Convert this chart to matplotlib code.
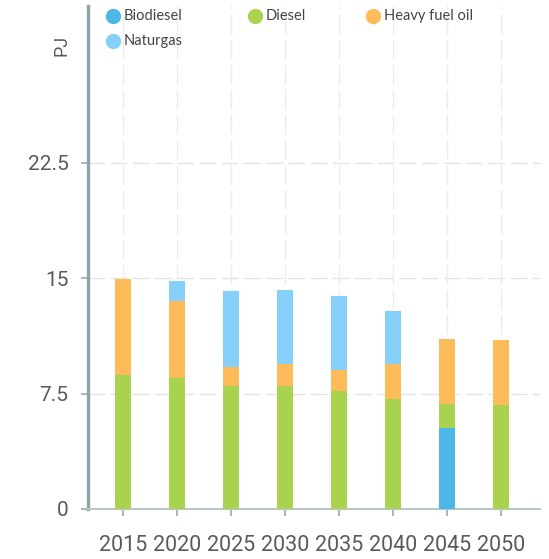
import matplotlib
matplotlib.use("Agg")
import matplotlib.pyplot as plt
import numpy as np
from matplotlib.lines import Line2D

years = ["2015", "2020", "2025", "2030", "2035", "2040", "2045", "2050"]
series_names = ["Biodiesel", "Diesel", "Heavy fuel oil", "Naturgas"]
biodiesel = [0, 0, 0, 0, 0, 0, 5.25, 0]
diesel = [8.7, 8.55, 8.0, 8.0, 7.65, 7.15, 1.6, 6.75]
heavy_fuel_oil = [6.25, 4.95, 1.25, 1.45, 1.4, 2.25, 4.2, 4.25]
naturgas = [0, 1.35, 4.9, 4.8, 4.8, 3.5, 0, 0]
colors = ["#4db8e8", "#a9d34f", "#fdbb5a", "#85cff9"]
yticks = [0, 7.5, 15, 22.5]
ytick_labels = ["0", "7.5", "15", "22.5"]

W, H = 549, 559
fig = plt.figure(figsize=(W / 100, H / 100), dpi=100)
ax_l, ax_r, ax_b, ax_t = 88, 540, 509, 6
ax = fig.add_axes([ax_l / W, 1 - ax_b / H, (ax_r - ax_l) / W, (ax_b - ax_t) / H])

x = np.arange(len(years))
bottom = np.zeros(len(years))
for vals, c in zip([biodiesel, diesel, heavy_fuel_oil, naturgas], colors):
    ax.bar(x, vals, width=0.31, bottom=bottom, color=c, zorder=3)
    bottom += np.array(vals)

ax.set_xlim(-0.648, 7.72)
ax.set_ylim(0, (ax_b - ax_t) / 15.38)

ax.set_yticks(yticks)
ax.set_yticklabels(ytick_labels)
ax.set_xticks(x)
ax.set_xticklabels(years)

for lab in ax.get_xticklabels() + ax.get_yticklabels():
    lab.set_fontfamily(["Roboto", "DejaVu Sans"])
ax.tick_params(axis="y", length=5, width=1.2, color="#9aa9ad", pad=9,
               labelsize=15, labelcolor="#5a5a5a")
ax.tick_params(axis="x", length=5, width=1.2, color="#9aa9ad", pad=14,
               labelsize=15.5, labelcolor="#5a5a5a")

for s in ["top", "right"]:
    ax.spines[s].set_visible(False)
ax.spines["left"].set_color("#8fa3a6")
ax.spines["left"].set_linewidth(2.4)
ax.spines["bottom"].set_color("#b9c6ca")
ax.spines["bottom"].set_linewidth(1.5)

for yv in yticks[1:]:
    ax.axhline(yv, color="#e4e4e4", lw=1, ls=(0, (12, 4)), zorder=1)
for xv in x:
    ax.axvline(xv, color="#ececec", lw=1, ls=(0, (14, 4)), zorder=1)

fig.text(61 / W, 1 - 45 / H, "PJ", rotation=90, ha="center", va="center",
         fontsize=13, color="#5a5a5a", family=["Roboto", "DejaVu Sans"])

leg_pos = [(113, 16), (255, 16), (373, 16), (113, 41)]
for (px, py), name, c in zip(leg_pos, series_names, colors):
    fig.add_artist(Line2D([px / W], [1 - py / H], marker="o", markersize=10,
                          color=c, linestyle="none", transform=fig.transFigure))
    fig.text((px + 11) / W, 1 - py / H, name, ha="left", va="center",
             fontsize=10.5, color="#444444", family=["Lato", "DejaVu Sans"])

fig.savefig("out.png", dpi=100)
